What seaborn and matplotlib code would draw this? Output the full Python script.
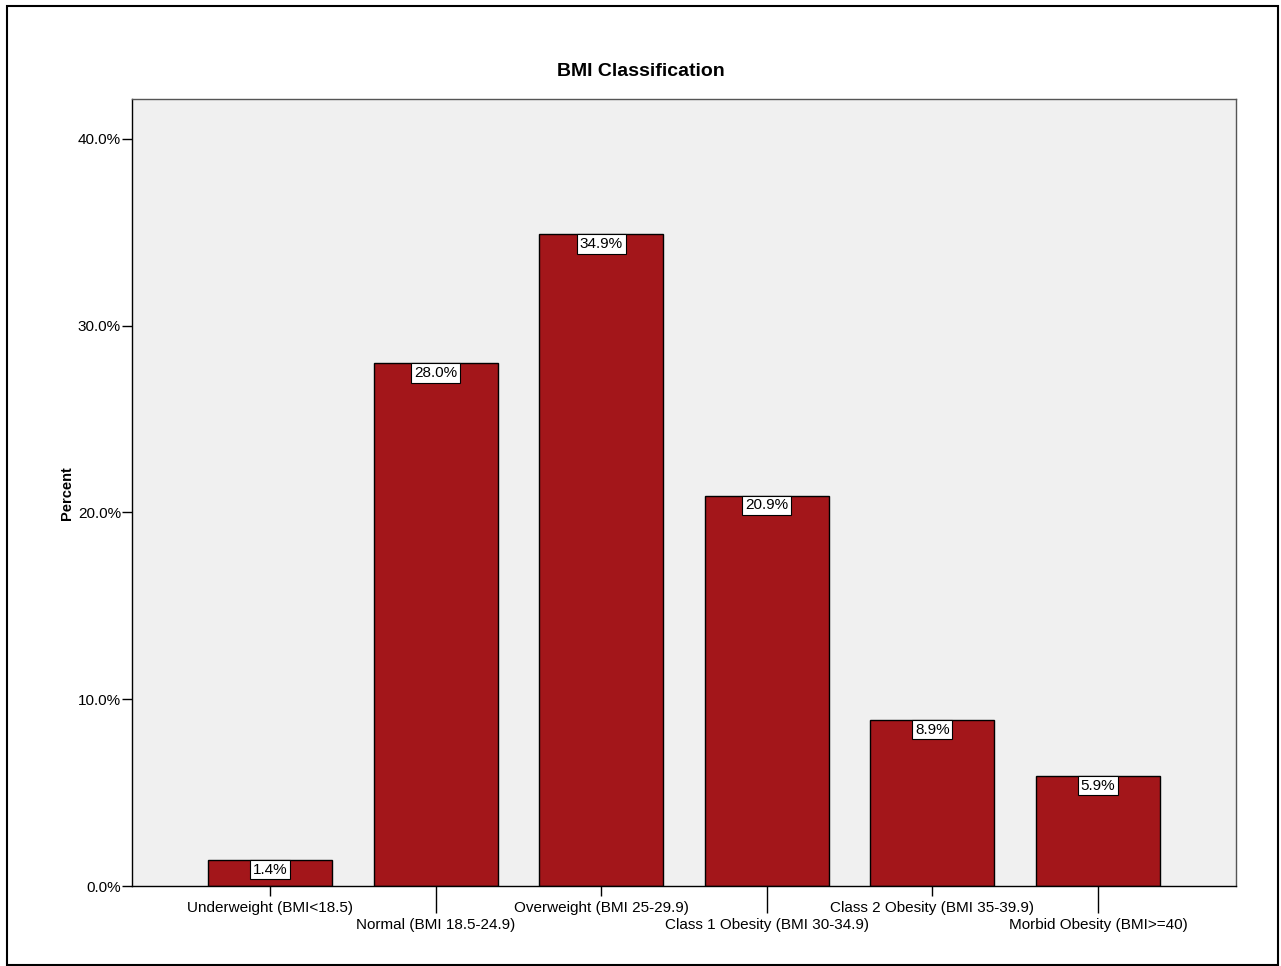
import matplotlib
matplotlib.use("Agg")
import matplotlib.pyplot as plt
import matplotlib.patches as mpatches
import seaborn as sns
import pandas as pd

categories = ["Underweight (BMI<18.5)", "Normal (BMI 18.5-24.9)", "Overweight (BMI 25-29.9)",
              "Class 1 Obesity (BMI 30-34.9)", "Class 2 Obesity (BMI 35-39.9)", "Morbid Obesity (BMI>=40)"]
percents = [1.4, 28.0, 34.9, 20.9, 8.9, 5.9]
yticks = [0, 10, 20, 30, 40]
ytick_labels = ["0.0%", "10.0%", "20.0%", "30.0%", "40.0%"]

sns.set_style("white")
plt.rcParams["font.family"] = ["Liberation Sans", "DejaVu Sans"]
for k in ["text.color", "xtick.color", "ytick.color", "axes.labelcolor", "xtick.labelcolor", "ytick.labelcolor"]:
    plt.rcParams[k] = "black"

df = pd.DataFrame({"cat": categories, "pct": percents})

fig = plt.figure(figsize=(12.81, 9.66), dpi=100)
ax = fig.add_axes([132/1281, 1-886/966, (1236-132)/1281, (886-99)/966])
ax.set_facecolor("#f0f0f0")

sns.barplot(data=df, x="cat", y="pct", color="#a3161a", saturation=1, width=0.75,
            edgecolor="black", linewidth=1.0, ax=ax)

ax.set_xlim(-0.834, 5.834)
ax.set_ylim(0, 42.14)
ax.set_yticks(yticks)
ax.set_yticklabels(ytick_labels, fontsize=11)
ax.set_xlabel("")
ax.set_ylabel("")

for sp in ["left", "bottom"]:
    ax.spines[sp].set_color("black")
    ax.spines[sp].set_linewidth(1.0)
for sp in ["top", "right"]:
    ax.spines[sp].set_color("#555555")
    ax.spines[sp].set_linewidth(1.0)

ax.tick_params(axis="y", direction="out", length=7, width=1, color="black", left=True, pad=1)
ax.tick_params(axis="x", direction="out", length=7, width=1, color="black", bottom=True, pad=3.6)

ax.set_xticks(range(len(categories)))
ax.set_xticklabels(categories, fontsize=11)
ax_h_pt = (886 - 99) * 72 / 100
for i, t in enumerate(ax.xaxis.get_major_ticks()):
    if i % 2 == 1:
        t.tick1line.set_markersize(19.5)
        t.label1.set_y(-12.3 / ax_h_pt)

for p, v in zip(ax.patches, percents):
    x = p.get_x() + p.get_width() / 2
    ax.annotate(f"{v:.1f}%", xy=(x, p.get_height()), xytext=(0, -2.0), textcoords="offset points",
                ha="center", va="top", fontsize=11,
                bbox=dict(boxstyle="square,pad=0.18", facecolor="white", edgecolor="black", linewidth=0.8))

fig.text(0.5, 1 - 72/966, "BMI Classification", ha="center", va="center", fontsize=14, fontweight="bold")
fig.text(67/1281, 1 - 493/966, "Percent", ha="center", va="center", rotation=90, fontsize=10.5, fontweight="bold")

border = mpatches.Rectangle((7/1281, 1 - 965/966), (1278-7)/1281, (965-6)/966, transform=fig.transFigure,
                            fill=False, edgecolor="black", linewidth=1.5)
fig.add_artist(border)

fig.savefig("out.png", dpi=100)
